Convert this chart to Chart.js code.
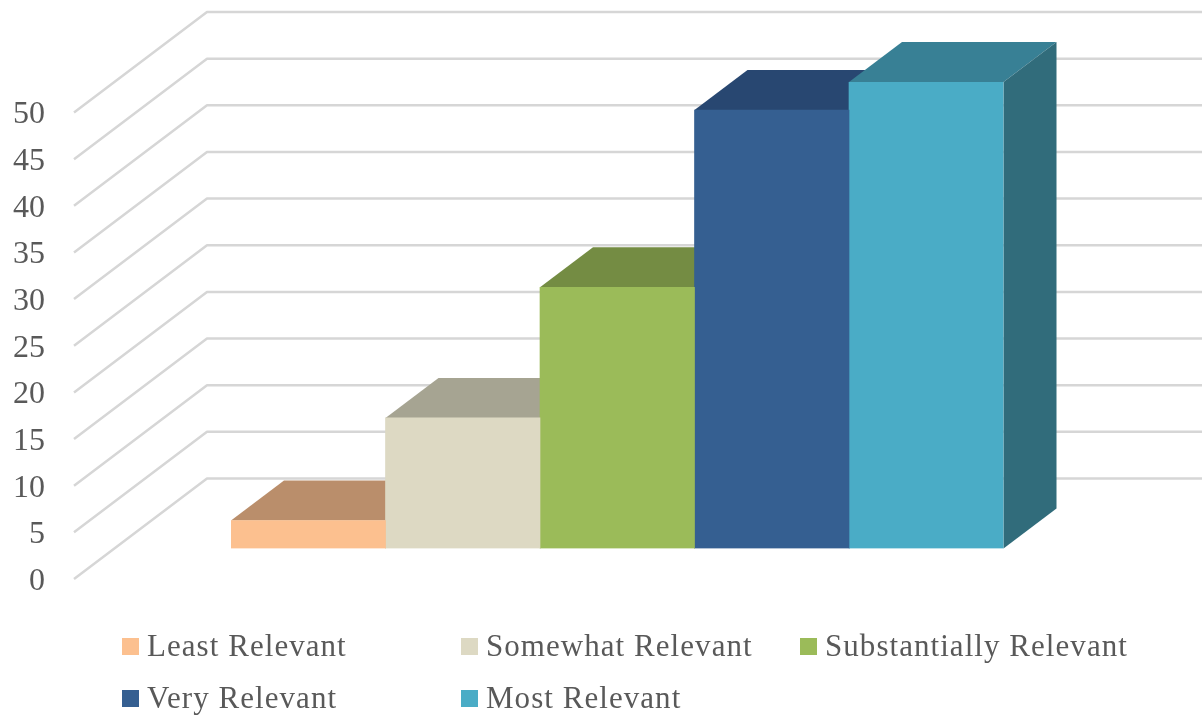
<!DOCTYPE html>
<html>
<head>
<meta charset="utf-8">
<title>Relevance ratings</title>
<script src="https://cdn.jsdelivr.net/npm/chart.js@4"></script>
<style>
  html, body { margin: 0; padding: 0; background: #fff; overflow: hidden; }
  canvas { display: block; }
</style>
</head>
<body>
<canvas id="chart" width="1202" height="717"></canvas>
<script>
// Survey results
const groupLabels = ['Relevance'];
const seriesNames = ['Least Relevant', 'Somewhat Relevant', 'Substantially Relevant', 'Very Relevant', 'Most Relevant'];
const seriesValues = [3, 14, 28, 47, 50];
const axisMin = 0;
const axisMax = 50;
const axisStep = 5;

// Palette: front, top and side faces of each column
const frontColors = ['#FCC08F', '#DDD9C3', '#9BBB59', '#355F91', '#4AACC6'];
const topColors = ['#BA8E6B', '#A6A492', '#748C43', '#284771', '#388095'];
const sideColors = ['#8F6D52', '#807E70', '#597034', '#1F3757', '#316C7B'];

const FONT_FAMILY = '"Liberation Serif", serif';
const TEXT_COLOR = '#595959';
const GRID_COLOR = '#D6D6D6';

// Projection of the 3D box
const depthX = 53, depthY = 40;       // column depth
const wallBack = { x: 207, dy: -70 }; // back wall offset from the front plane
const wallFront = { x: 74, dy: 30.5 }; // near end of the side wall lines

// Draws the side wall and back wall lines
const wallPlugin = {
  id: 'walls',
  beforeDatasetsDraw(chart) {
    const { ctx, scales: { y }, width } = chart;
    ctx.save();
    ctx.strokeStyle = GRID_COLOR;
    ctx.lineWidth = 2.5;
    ctx.lineJoin = 'round';
    y.ticks.forEach(t => {
      const py = y.getPixelForValue(t.value);
      ctx.beginPath();
      ctx.moveTo(wallFront.x, py + wallFront.dy);
      ctx.lineTo(wallBack.x, py + wallBack.dy);
      ctx.lineTo(width, py + wallBack.dy);
      ctx.stroke();
    });
    // Top and side faces, left to right, underneath the front faces
    chart.data.datasets.forEach((ds, i) => {
      const bar = chart.getDatasetMeta(i).data[0];
      const half = bar.width / 2;
      const l = bar.x - half, r = bar.x + half, t = bar.y, b = bar.base;
      ctx.fillStyle = topColors[i];
      ctx.beginPath();
      ctx.moveTo(l, t);
      ctx.lineTo(l + depthX, t - depthY);
      ctx.lineTo(r + depthX, t - depthY);
      ctx.lineTo(r, t);
      ctx.closePath();
      ctx.fill();
      ctx.fillStyle = sideColors[i];
      ctx.beginPath();
      ctx.moveTo(r, t);
      ctx.lineTo(r + depthX, t - depthY);
      ctx.lineTo(r + depthX, b - depthY);
      ctx.lineTo(r, b);
      ctx.closePath();
      ctx.fill();
    });
    ctx.restore();
  }
};

// Two-row legend with fixed columns
const legendColumns = [122, 461, 800];
const legendRows = [646.5, 698.5];
const legendPlugin = {
  id: 'columnLegend',
  afterDraw(chart) {
    const { ctx } = chart;
    ctx.save();
    ctx.font = '31px ' + FONT_FAMILY;
    ctx.textBaseline = 'middle';
    ctx.letterSpacing = '1.05px';
    chart.data.datasets.forEach((ds, i) => {
      const x = legendColumns[i % 3];
      const y = legendRows[Math.floor(i / 3)];
      ctx.fillStyle = ds.backgroundColor;
      ctx.fillRect(x, y - 8.5, 17, 17);
      ctx.fillStyle = TEXT_COLOR;
      ctx.fillText(ds.label, x + 25, y + 1);
    });
    ctx.restore();
  }
};

new Chart(document.getElementById('chart'), {
  type: 'bar',
  data: {
    labels: groupLabels,
    datasets: seriesNames.map((name, i) => ({
      label: name,
      data: [seriesValues[i]],
      backgroundColor: frontColors[i],
      borderWidth: 0,
      categoryPercentage: 1,
      barPercentage: 1
    }))
  },
  options: {
    responsive: false,
    animation: false,
    layout: { padding: { top: 82, right: 198.5, bottom: 168.5, left: 0 } },
    plugins: {
      legend: { display: false },
      title: { display: false },
      tooltip: { enabled: false }
    },
    scales: {
      x: { display: false, grid: { display: false } },
      y: {
        min: axisMin,
        max: axisMax,
        // The wide label gap should widen the axis only, not inset the plot vertically
        afterFit(scale) {
          scale.width = 231;
          scale.paddingTop = 0;
          scale.paddingBottom = 0;
        },
        border: { display: false },
        grid: { display: false, drawTicks: false },
        ticks: {
          stepSize: axisStep,
          padding: 186,
          labelOffset: 33,
          color: TEXT_COLOR,
          font: { family: FONT_FAMILY, size: 32 }
        }
      }
    }
  },
  plugins: [wallPlugin, legendPlugin]
});
</script>
</body>
</html>
